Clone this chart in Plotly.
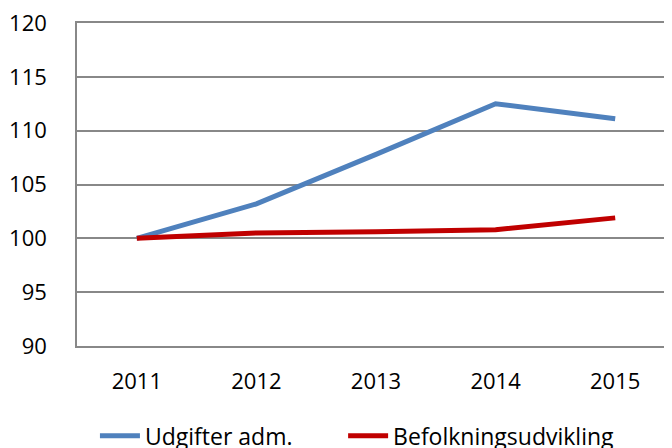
import plotly.graph_objects as go

years = ["2011", "2012", "2013", "2014", "2015"]
udgifter = [100.0, 103.2, 107.8, 112.5, 111.1]
befolkning = [100.0, 100.5, 100.6, 100.8, 101.9]

FONT = "Open Sans"

fig = go.Figure()
fig.add_trace(go.Scatter(x=years, y=udgifter, mode="lines", name="Udgifter adm.",
                         line=dict(color="#4F81BD", width=5), legend="legend"))
fig.add_trace(go.Scatter(x=years, y=befolkning, mode="lines", name="Befolkningsudvikling",
                         line=dict(color="#C00000", width=5), legend="legend2"))

leg_common = dict(orientation="h", xanchor="left", y=-0.278, yanchor="middle",
                  font=dict(size=23), itemwidth=40, bgcolor="rgba(0,0,0,0)")

fig.update_layout(
    width=672, height=448,
    margin=dict(l=69, r=5, t=15, b=110, autoexpand=False),
    paper_bgcolor="white", plot_bgcolor="white",
    font=dict(family=FONT, size=22, color="black"),
    showlegend=True,
    legend=dict(x=0.030, **leg_common),
    legend2=dict(x=0.445, **leg_common),
    xaxis=dict(type="category", range=[-0.5, 4.5], showgrid=False,
               showline=True, mirror=True, linecolor="#888888", linewidth=1.5,
               ticks="", ticklabelstandoff=15),
    yaxis=dict(range=[90, 120], tickvals=[90, 95, 100, 105, 110, 115, 120],
               showgrid=True, gridcolor="#888888", gridwidth=1.5,
               showline=True, linecolor="#888888", linewidth=1.5, zeroline=False,
               ticks="", ticklabelstandoff=24, ticklabeloverflow="allow"),
)

fig.write_html("out.html")
